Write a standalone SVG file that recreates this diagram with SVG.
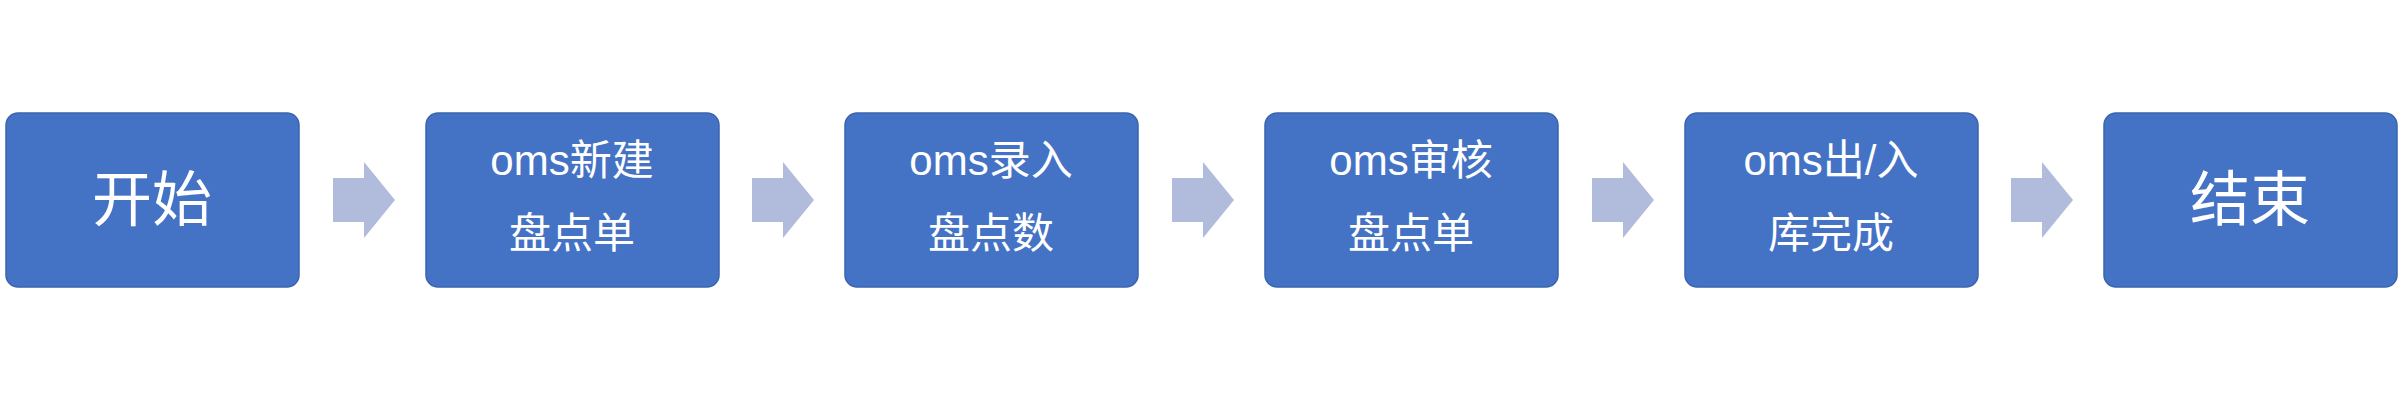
<svg xmlns="http://www.w3.org/2000/svg" width="2403" height="400" viewBox="0 0 2403 400">
<style>
.box{fill:#4472C4;stroke:#3A64AE;stroke-width:1.5}
.t{fill:#fff;font-family:"Liberation Sans","Noto Sans CJK SC",sans-serif;text-anchor:middle;dominant-baseline:central}
.big{font-size:60px}
.sm{font-size:42px}
.arr{fill:#B1BCDD}
</style>
<rect width="2403" height="400" fill="#fff"/>
<g id="n1"><rect class="box" x="6" y="113" width="293" height="174" rx="12"/><text class="t big" x="152" y="200">开始</text></g>
<g id="n2"><rect class="box" x="426" y="113" width="293" height="174" rx="12"/><text class="t sm" x="572" y="160">oms新建</text><text class="t sm" x="572" y="233">盘点单</text></g>
<g id="n3"><rect class="box" x="845" y="113" width="293" height="174" rx="12"/><text class="t sm" x="991" y="160">oms录入</text><text class="t sm" x="991" y="233">盘点数</text></g>
<g id="n4"><rect class="box" x="1265" y="113" width="293" height="174" rx="12"/><text class="t sm" x="1411" y="160">oms审核</text><text class="t sm" x="1411" y="233">盘点单</text></g>
<g id="n5"><rect class="box" x="1685" y="113" width="293" height="174" rx="12"/><text class="t sm" x="1831" y="160">oms出/入</text><text class="t sm" x="1831" y="233">库完成</text></g>
<g id="n6"><rect class="box" x="2104" y="113" width="293" height="174" rx="12"/><text class="t big" x="2250" y="200">结束</text></g>
<g id="connectors">
<polygon class="arr" points="333,178 364,178 364,162 395,200 364,238 364,222 333,222"/>
<polygon class="arr" points="752,178 783,178 783,162 814,200 783,238 783,222 752,222"/>
<polygon class="arr" points="1172,178 1203,178 1203,162 1234,200 1203,238 1203,222 1172,222"/>
<polygon class="arr" points="1592,178 1623,178 1623,162 1654,200 1623,238 1623,222 1592,222"/>
<polygon class="arr" points="2011,178 2042,178 2042,162 2073,200 2042,238 2042,222 2011,222"/>
</g>
</svg>
